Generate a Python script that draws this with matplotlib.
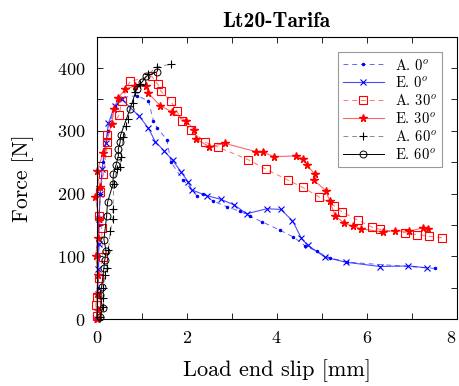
import numpy as np
import matplotlib.pyplot as plt
from matplotlib.ticker import MultipleLocator, FixedLocator

plt.rcParams['font.family'] = 'cmr10'
plt.rcParams['mathtext.fontset'] = 'cm'
plt.rcParams['axes.formatter.use_mathtext'] = True

# A. 0 deg (blue dashed, dots)
a0_x = [0.0, 0.03, 0.05, 0.04, 0.08, 0.15, 0.25, 0.40, 0.55, 0.89, 1.15, 1.26, 1.35, 1.56, 1.65, 1.92,
        2.22, 2.37, 2.59, 2.90, 3.18, 3.41, 3.68, 4.07, 4.37, 4.63, 4.89, 5.18, 5.56, 7.52]
a0_y = [0, 50, 100, 150, 200, 250, 300, 340, 353, 356, 348, 316, 304, 286, 250, 222,
        197, 199, 188, 179, 172, 164, 155, 142, 131, 117, 108, 98, 91, 81]
# E. 0 deg (blue solid, x)
e0_x = [0.0, 0.02, 0.03, 0.05, 0.05, 0.08, 0.12, 0.20, 0.26, 0.40, 0.56, 0.95, 1.15, 1.30, 1.50, 1.69,
        1.87, 2.03, 2.11, 2.44, 2.76, 3.06, 3.33, 3.78, 4.09, 4.35, 4.55, 4.69, 5.07, 5.53, 6.30, 6.92, 7.33]
e0_y = [0, 40, 80, 120, 160, 200, 240, 280, 312, 340, 350, 323, 304, 283, 268, 253,
        235, 219, 206, 197, 191, 182, 168, 176, 175, 157, 129, 118, 99, 91, 84, 85, 82]
# A. 30 deg (red dashed, squares)
a30_x = [0.0, -0.02, 0.0, 0.04, 0.13, 0.11, 0.06, 0.07, 0.15, 0.22, 0.22, 0.22, 0.50, 0.56, 0.74, 1.22,
         1.36, 1.43, 1.64, 1.78, 1.89, 2.10, 2.41, 2.70, 3.37, 3.76, 4.24, 4.58, 4.94, 5.27, 5.45,
         5.80, 6.11, 6.30, 6.84, 7.11, 7.39, 7.67]
a30_y = [5, 23, 36, 66, 99, 146, 164, 202, 232, 266, 282, 293, 326, 348, 379, 387,
         374, 363, 348, 332, 316, 301, 282, 274, 254, 239, 222, 210, 195, 181, 171,
         158, 147, 143, 138, 135, 132, 130]
# E. 30 deg (red solid, stars)
e30_x = [0.0, 0.02, 0.0, 0.03, -0.02, 0.02, 0.05, -0.03, 0.07, 0.0, 0.15, 0.33, 0.39, 0.47, 0.63, 0.85,
         1.09, 1.15, 1.41, 1.68, 1.98, 2.17, 2.21, 2.50, 2.85, 3.54, 3.69, 3.94, 4.43, 4.59, 4.67,
         4.84, 4.83, 5.09, 5.18, 5.30, 5.50, 5.70, 5.87, 6.37, 6.63, 6.94, 7.26, 7.37]
e30_y = [0, 15, 40, 70, 100, 130, 160, 195, 210, 236, 265, 311, 335, 352, 366, 372,
         371, 360, 340, 330, 316, 302, 287, 275, 280, 267, 266, 259, 260, 256, 245,
         232, 221, 205, 188, 165, 153, 148, 144, 139, 141, 140, 146, 143]
# A. 60 deg (black dashed, +)
a60_x = [0.07, 0.14, 0.14, 0.15, 0.18, 0.22, 0.26, 0.30, 0.36, 0.36, 0.38, 0.44, 0.52, 0.53, 0.59,
         0.65, 0.69, 0.80, 0.85, 0.96, 1.15, 1.33, 1.65]
a60_y = [4, 20, 34, 50, 71, 82, 110, 140, 159, 175, 215, 239, 242, 259, 290,
         307, 319, 345, 362, 375, 390, 402, 406]
# E. 60 deg (black solid, circles)
e60_x = [0.07, 0.13, 0.07, 0.11, 0.16, 0.18, 0.21, 0.16, 0.22, 0.24, 0.36, 0.37, 0.43, 0.48, 0.48,
         0.52, 0.53, 0.74, 0.89, 1.01, 1.10, 1.33]
e60_y = [4, 18, 39, 52, 82, 95, 108, 127, 164, 186, 215, 231, 246, 260, 271,
         282, 293, 335, 367, 378, 387, 394]

fig = plt.figure(figsize=(4.59, 3.86), dpi=100)
ax = fig.add_axes([0.2107, 0.1728, 0.7843, 0.7322])

dash = (0, (5, 4))
ax.plot(a0_x, a0_y, color=(0, 0, 1, 0.6), ls=dash, lw=0.7, marker='.', ms=3, mec='blue', mfc='blue',
        clip_on=False, label=r'A. $0^o$')
ax.plot(e0_x, e0_y, color=(0, 0, 1, 0.7), lw=0.8, marker='x', ms=4, mec='blue', mew=0.8,
        clip_on=False, label=r'E. $0^o$')
ax.plot(a30_x, a30_y, color=(1, 0, 0, 0.55), ls=dash, lw=0.7, marker='s', ms=5.5, mec='red', mfc='none',
        mew=0.8, clip_on=False, label=r'A. $30^o$')
ax.plot(e30_x, e30_y, color=(1, 0, 0, 0.6), lw=0.8, marker='*', ms=5.5, mec='red', mfc='red',
        clip_on=False, label=r'E. $30^o$')
ax.plot(a60_x, a60_y, color=(0, 0, 0, 0.45), ls=dash, lw=0.7, marker='+', ms=6, mec='black', mew=0.8,
        clip_on=False, label=r'A. $60^o$')
ax.plot(e60_x, e60_y, color='black', lw=0.7, marker='o', ms=5, mec='black', mfc='none', mew=0.7,
        clip_on=False, label=r'E. $60^o$')

ax.set_xlim(0, 8)
ax.set_ylim(0, 450)
ax.xaxis.set_major_locator(FixedLocator([0, 2, 4, 6, 8]))
ax.xaxis.set_minor_locator(FixedLocator([1, 3, 5, 7]))
ax.yaxis.set_major_locator(MultipleLocator(100))
ax.yaxis.set_minor_locator(MultipleLocator(50))
ax.tick_params(which='both', direction='in', top=True, right=True, length=4, width=0.6)
ax.tick_params(which='major', labelsize=13, pad=8)
for s in ax.spines.values():
    s.set_linewidth(0.8)
fig.canvas.draw()
ax.get_xticklabels()[-1].set_horizontalalignment('right')

ax.set_xlabel('Load end slip [mm]', fontsize=16, labelpad=9)
ax.set_ylabel('Force [N]', fontsize=15.5, labelpad=17)
ax.set_title('Lt20-Tarifa', fontsize=15.5, fontfamily='cmb10', pad=7)

leg = ax.legend(loc='upper right', fontsize=10.5, frameon=True, fancybox=False, handlelength=2.8,
                borderpad=0.35, labelspacing=0.2, bbox_to_anchor=(0.98, 0.97))
leg.get_frame().set_edgecolor('gray')
leg.get_frame().set_linewidth(0.8)

fig.savefig('out.png', dpi=100)
